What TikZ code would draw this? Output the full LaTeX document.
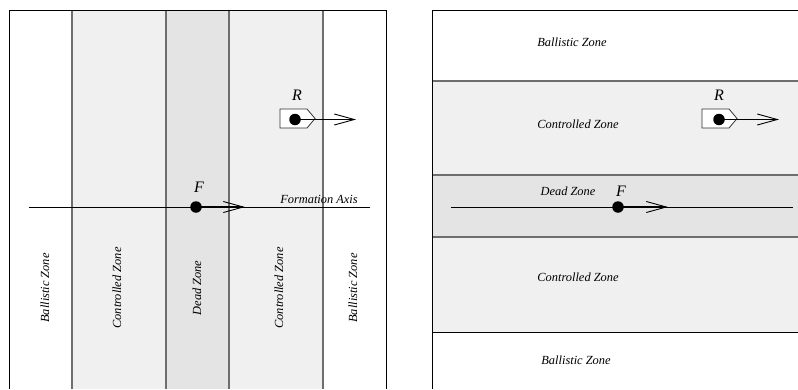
\documentclass[tikz,border=0pt]{standalone}
\usepackage{fontspec}
\setmainfont{Liberation Serif}
\usepackage{tikz}
\usetikzlibrary{arrows.meta, positioning}
\definecolor{ctrlgray}{RGB}{240,240,240}
\definecolor{deadgray}{RGB}{228,228,228}
\definecolor{edgegray}{RGB}{110,110,110}
\tikzstyle{zone_ctrl} = [fill=ctrlgray]
\tikzstyle{zone_dead} = [fill=deadgray]
\tikzstyle{zone_edge} = [draw=edgegray, line width=1.2pt]
\tikzstyle{frame} = [draw=black, line width=0.9pt]
\tikzstyle{zonetxt} = [font=\fontsize{12.4}{14}\selectfont\itshape, inner sep=0pt]
\tikzstyle{craft} = [circle, fill=black, inner sep=0pt, minimum size=11.5pt]
\tikzstyle{craftlbl} = [font=\fontsize{16}{18}\selectfont\itshape, inner sep=0pt]
\tikzstyle{axis} = [draw, line width=0.9pt]
\tikzstyle{vel} = [draw, line width=1.2pt, -{Straight Barb[length=20pt,width=11pt,line width=0.9pt]}]
\tikzstyle{tagbox} = [draw=black!80, fill=white, line width=0.8pt]

\begin{document}
\begin{tikzpicture}[x=1pt, y=-1pt]
\useasboundingbox (0,0) rectangle (798,389);

% left panel: vertical zones
\path [zone_ctrl] (72,10) rectangle (166,389);
\path [zone_dead] (166,10) rectangle (229,389);
\path [zone_ctrl] (229,10) rectangle (323,389);
\foreach \x in {72,166,229,323}
  \draw [zone_edge] (\x,10) -- (\x,389);
\draw [frame] (9,389) |- (386,10) -- (386,389);

\node [zonetxt, rotate=90] (bal_l) at (45,288) {Ballistic Zone};
\node [zonetxt, rotate=90] (ctl_l) at (117,288) {Controlled Zone};
\node [zonetxt, rotate=90] (dead_l) at (197,288) {Dead Zone};
\node [zonetxt, rotate=90] (ctr_l) at (279,288) {Controlled Zone};
\node [zonetxt, rotate=90] (bar_l) at (353,288) {Ballistic Zone};

\coordinate (ax_l_start) at (29,207);
\coordinate (ax_l_end) at (370,207);
\path [axis] (ax_l_start) -- (ax_l_end);
\node [zonetxt] (axis_lbl) at (319,199) {Formation Axis};

\draw [tagbox] (280,109) -- (307,109) -- (315,118.5) -- (307,128) -- (280,128) -- cycle;
\node [craft] (R_l) at (295,119.5) {};
\node [craftlbl] (R_l_lbl) at (297,95) {R};
\coordinate (R_l_tip) at (356,119.5);
\path [vel] (R_l.center) -- (R_l_tip);

\node [craft] (F_l) at (196,207) {};
\node [craftlbl] (F_l_lbl) at (199,187) {F};
\coordinate (F_l_tip) at (245,207);
\path [vel] (F_l.center) -- (F_l_tip);

% right panel: horizontal zones
\path [zone_ctrl] (432,81) rectangle (798,175);
\path [zone_dead] (432,175) rectangle (798,237);
\path [zone_ctrl] (432,237) rectangle (798,332);
\foreach \y in {81,175,237}
  \draw [zone_edge] (432,\y) -- (798,\y);
\draw [frame] (432,332) -- (798,332);
\draw [frame] (432,389) |- (798,10);

\node [zonetxt] (bal_t) at (572,42) {Ballistic Zone};
\node [zonetxt] (ctl_t) at (578,124) {Controlled Zone};
\node [zonetxt] (dead_r) at (568,191) {Dead Zone};
\node [zonetxt] (ctl_b) at (578,277) {Controlled Zone};
\node [zonetxt] (bal_b) at (576,360) {Ballistic Zone};

\coordinate (ax_r_start) at (451,207);
\coordinate (ax_r_end) at (793,207);
\path [axis] (ax_r_start) -- (ax_r_end);

\draw [tagbox] (702,109) -- (729,109) -- (737,118.5) -- (729,128) -- (702,128) -- cycle;
\node [craft] (R_r) at (719,119.5) {};
\node [craftlbl] (R_r_lbl) at (719,95) {R};
\coordinate (R_r_tip) at (779,119.5);
\path [vel] (R_r.center) -- (R_r_tip);

\node [craft] (F_r) at (618,207) {};
\node [craftlbl] (F_r_lbl) at (621,191) {F};
\coordinate (F_r_tip) at (668,207);
\path [vel] (F_r.center) -- (F_r_tip);

\end{tikzpicture}
\end{document}
